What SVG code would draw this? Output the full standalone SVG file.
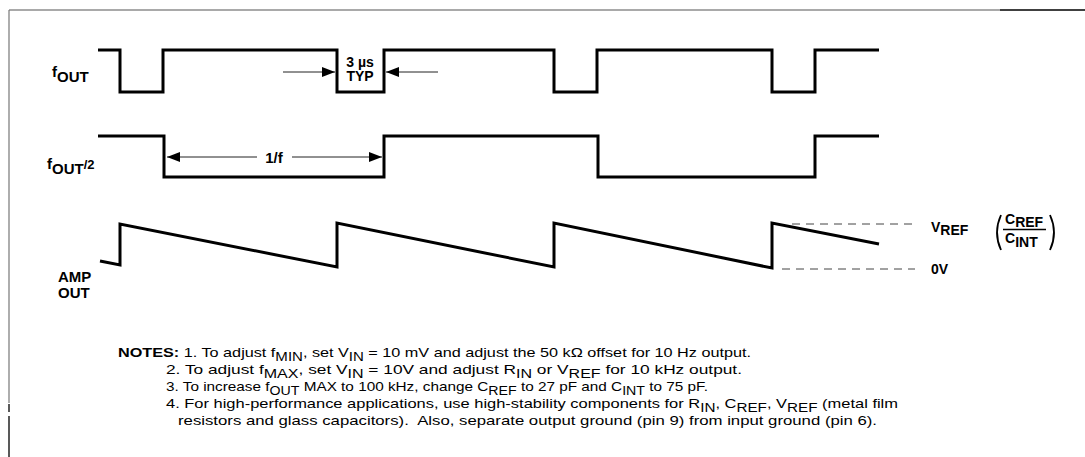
<svg xmlns="http://www.w3.org/2000/svg" width="1085" height="457" viewBox="0 0 1085 457">
<style>
.wave{fill:none;stroke:#000;stroke-width:3;stroke-linejoin:miter;stroke-linecap:butt}
.thin{fill:none;stroke:#222;stroke-width:1}
.dash{fill:none;stroke:#444;stroke-width:1;stroke-dasharray:8 6}
.lbl{font-family:"Liberation Sans",Arial,sans-serif;font-weight:bold;fill:#000}
.note{font-family:"Liberation Sans",Arial,sans-serif;font-size:13.5px;fill:#000}
.sub{font-size:12.5px}
</style>
<defs>
<marker id="ah" viewBox="0 0 13 10" refX="13" refY="5" markerWidth="13" markerHeight="10" markerUnits="userSpaceOnUse" orient="auto">
<path d="M0,0 L13,5 L0,10 Z" fill="#000"/>
</marker>
</defs>
<rect width="1085" height="457" fill="#fff"/>
<g id="frame">
<line x1="9" y1="10" x2="1000" y2="10" stroke="#555" stroke-width="1.2"/>
<line x1="1000" y1="10" x2="1085" y2="10" stroke="#000" stroke-width="1.5"/>
<line x1="9" y1="10" x2="9" y2="403" stroke="#777" stroke-width="1.2"/>
<line x1="9" y1="404" x2="9" y2="412" stroke="#222" stroke-width="1.5"/>
<line x1="9" y1="416" x2="9" y2="457" stroke="#222" stroke-width="1.5"/>
</g>
<g id="fout">
<path class="wave" d="M98,50 H120 V92 H163 V50 H337 V92 H384 V50 H554 V92 H597 V50 H772 V92 H815 V50 H879"/>
<text class="lbl" x="52" y="77" font-size="15">f<tspan dy="5">OUT</tspan></text>
</g>
<g id="fout2">
<path class="wave" d="M98,136 H164 V177 H384 V136 H598 V177 H815 V136 H879"/>
<text class="lbl" x="47" y="169" font-size="15">f<tspan dy="5">OUT</tspan><tspan dy="-5" font-size="13">/2</tspan></text>
</g>
<g id="ampout">
<path class="wave" d="M100,261 L120,265 V224 L337,267 V223 L554,267 V223 L772,268 V223 L879,244"/>
<text class="lbl" x="58" y="282" font-size="15">AMP</text>
<text class="lbl" x="58" y="298" font-size="15">OUT</text>
</g>
<g id="typ">
<text class="lbl" x="360" y="67" font-size="14" text-anchor="middle">3 µs</text>
<text class="lbl" x="360" y="81" font-size="14" text-anchor="middle">TYP</text>
</g>
<g id="period">
<text class="lbl" x="274" y="163" font-size="15" text-anchor="middle">1/f</text>
</g>
<g id="levels">
<text class="lbl" x="931" y="232" font-size="14">V<tspan dy="3">REF</tspan></text>
<text class="lbl" x="1005" y="224" font-size="14">C<tspan dy="3">REF</tspan></text>
<line x1="1003" y1="229.5" x2="1046" y2="229.5" stroke="#000" stroke-width="1.5"/>
<text class="lbl" x="1005" y="243" font-size="14">C<tspan dy="4">INT</tspan></text>
<path d="M1001,215 Q993,232.5 1001,250" fill="none" stroke="#000" stroke-width="1.8"/>
<path d="M1050,215 Q1058,232.5 1050,250" fill="none" stroke="#000" stroke-width="1.8"/>
<text class="lbl" x="931" y="274" font-size="14">0V</text>
</g>
<g id="connectors">
<line class="thin" x1="283" y1="72" x2="335" y2="72" marker-end="url(#ah)"/>
<line class="thin" x1="438" y1="72" x2="386" y2="72" marker-end="url(#ah)"/>
<line class="thin" x1="257" y1="157" x2="167" y2="157" marker-end="url(#ah)"/>
<line class="thin" x1="292" y1="157" x2="382" y2="157" marker-end="url(#ah)"/>
<line class="dash" x1="792" y1="224" x2="915" y2="224"/>
<line class="dash" x1="782" y1="269" x2="915" y2="269"/>
</g>
<g id="notes">
<text class="note" x="118" y="357" textLength="633" lengthAdjust="spacingAndGlyphs"><tspan font-weight="bold">NOTES:</tspan> 1. To adjust f<tspan class="sub" dy="4">MIN</tspan><tspan dy="-4">, set V</tspan><tspan class="sub" dy="4">IN</tspan><tspan dy="-4"> = 10 mV and adjust the 50 kΩ offset for 10 Hz output.</tspan></text>
<text class="note" x="166" y="374" textLength="576" lengthAdjust="spacingAndGlyphs">2. To adjust f<tspan class="sub" dy="4">MAX</tspan><tspan dy="-4">, set V</tspan><tspan class="sub" dy="4">IN</tspan><tspan dy="-4"> = 10V and adjust R</tspan><tspan class="sub" dy="4">IN</tspan><tspan dy="-4"> or V</tspan><tspan class="sub" dy="4">REF</tspan><tspan dy="-4"> for 10 kHz output.</tspan></text>
<text class="note" x="166" y="391" textLength="542" lengthAdjust="spacingAndGlyphs">3. To increase f<tspan class="sub" dy="4">OUT</tspan><tspan dy="-4"> MAX to 100 kHz, change C</tspan><tspan class="sub" dy="4">REF</tspan><tspan dy="-4"> to 27 pF and C</tspan><tspan class="sub" dy="4">INT</tspan><tspan dy="-4"> to 75 pF.</tspan></text>
<text class="note" x="166" y="408" textLength="732" lengthAdjust="spacingAndGlyphs">4. For high-performance applications, use high-stability components for R<tspan class="sub" dy="4">IN</tspan><tspan dy="-4">, C</tspan><tspan class="sub" dy="4">REF</tspan><tspan dy="-4">, V</tspan><tspan class="sub" dy="4">REF</tspan><tspan dy="-4"> (metal film</tspan></text>
<text class="note" x="178" y="425" textLength="699" lengthAdjust="spacingAndGlyphs">resistors and glass capacitors).&#160; Also, separate output ground (pin 9) from input ground (pin 6).</text>
</g>
</svg>
